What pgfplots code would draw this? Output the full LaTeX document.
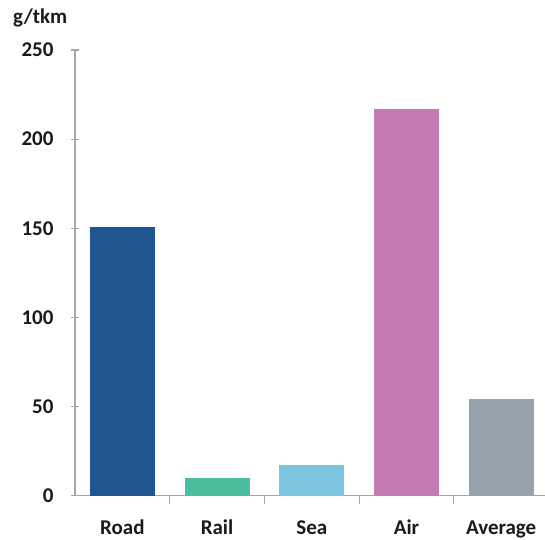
\documentclass[border=0pt]{standalone}
\usepackage{pgfplots}
\pgfplotsset{compat=1.18}
\usepackage{fontspec}
\setmainfont{Carlito}
\definecolor{roadc}{HTML}{1F5591}
\definecolor{railc}{HTML}{4BBE9E}
\definecolor{seac}{HTML}{7CC6E0}
\definecolor{airc}{HTML}{C47BB3}
\definecolor{avgc}{HTML}{98A2AD}
\definecolor{axc}{HTML}{A6A6A6}
\definecolor{txt}{HTML}{1A1A1A}
\begin{document}
\begin{tikzpicture}
\begin{axis}[
  scale only axis,
  width=470pt, height=445.7pt,
  xmin=-0.5, xmax=4.463,
  ymin=0, ymax=250,
  ytick={0,50,100,150,200,250},
  xtick={0,1,2,3,4},
  xticklabels={Road,Rail,Sea,Air,Average},
  minor xtick={0.5,1.5,2.5,3.5},
  major x tick style={draw=none},
  minor tick length=8pt,
  major tick length=8pt,
  tick align=inside,
  axis x line=bottom, axis y line=left,
  axis line style={axc, line width=1.5pt, -},
  every tick/.style={axc, line width=1.2pt},
  tick label style={font=\fontsize{21}{24}\bfseries, text=txt},
  /pgf/number format/assume math mode=true,
  yticklabel style={xshift=-14pt},
  xticklabel style={inner sep=0pt, anchor=base, yshift=-30.5pt},
  ybar, bar width=65pt,
  clip=false,
]
\addplot[fill=roadc, draw=none, bar shift=0pt] coordinates {(0,151)};
\addplot[fill=railc, draw=none, bar shift=0pt] coordinates {(1,10)};
\addplot[fill=seac, draw=none, bar shift=0pt] coordinates {(2,17)};
\addplot[fill=airc, draw=none, bar shift=0pt] coordinates {(3,217)};
\addplot[fill=avgc, draw=none, bar shift=0pt] coordinates {(4,54)};
\end{axis}
\node[anchor=base west, inner sep=0pt, text=txt, font=\fontsize{21}{24}\bfseries] at (-62pt,471.7pt) {g/tkm};
\pgfresetboundingbox
\path (-75pt,-43.3pt) rectangle (470pt,495.7pt);
\end{tikzpicture}
\end{document}
